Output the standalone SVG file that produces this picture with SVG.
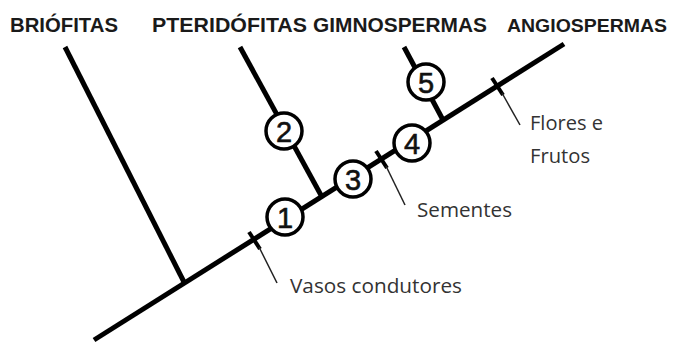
<svg xmlns="http://www.w3.org/2000/svg" width="675" height="343" viewBox="0 0 675 343">
<style>
.br{stroke:#000;stroke-width:5;stroke-linecap:butt;fill:none}
.tk{stroke:#000;stroke-width:4;fill:none}
.pt{stroke:#222;stroke-width:1.5;fill:none}
.c{fill:#fff;stroke:#000;stroke-width:3.5}
.n{font-family:"Liberation Sans",Arial,sans-serif;font-size:29px;fill:#111;text-anchor:middle;stroke:#111;stroke-width:0.6}
.t{font-family:"Liberation Sans",Arial,sans-serif;font-size:20px;font-weight:bold;fill:#1a1a1a}
.l{font-family:"Open Sans","Liberation Sans",sans-serif;font-size:20px;fill:#333}
</style>
<rect width="675" height="343" fill="#fff"/>
<g id="titles">
<text class="t" x="10" y="32" textLength="108" lengthAdjust="spacingAndGlyphs">BRIÓFITAS</text>
<text class="t" x="152" y="32" textLength="155" lengthAdjust="spacingAndGlyphs">PTERIDÓFITAS</text>
<text class="t" x="313" y="32" textLength="174" lengthAdjust="spacingAndGlyphs">GIMNOSPERMAS</text>
<text class="t" x="507" y="32" textLength="160" lengthAdjust="spacingAndGlyphs" style="font-size:19px">ANGIOSPERMAS</text>
</g>
<g id="connectors">
<line class="br" x1="94" y1="340" x2="564" y2="44"/>
<line class="br" x1="65" y1="47" x2="185" y2="284"/>
<line class="br" x1="240" y1="47" x2="322" y2="197"/>
<line class="br" x1="404" y1="47" x2="443" y2="120"/>
<line class="tk" x1="249" y1="232" x2="260" y2="249"/>
<line class="tk" x1="376" y1="151" x2="387" y2="168"/>
<line class="tk" x1="492" y1="78" x2="503" y2="95"/>
<line class="pt" x1="259" y1="247" x2="277" y2="283"/>
<line class="pt" x1="386" y1="166" x2="405" y2="205"/>
<line class="pt" x1="502" y1="93" x2="520" y2="125"/>
</g>
<g id="n1"><circle class="c" cx="285" cy="217" r="18"/><text class="n" x="285" y="227.5">1</text></g>
<g id="n2"><circle class="c" cx="284" cy="131" r="18"/><text class="n" x="284" y="141.5">2</text></g>
<g id="n3"><circle class="c" cx="353" cy="179" r="18"/><text class="n" x="353" y="189.5">3</text></g>
<g id="n4"><circle class="c" cx="412" cy="143" r="18"/><text class="n" x="412" y="153.5">4</text></g>
<g id="n5"><circle class="c" cx="426" cy="82" r="18"/><text class="n" x="426" y="92.5">5</text></g>
<g id="labels">
<text class="l" x="290" y="293" textLength="172" lengthAdjust="spacingAndGlyphs">Vasos condutores</text>
<text class="l" x="417" y="217" textLength="95" lengthAdjust="spacingAndGlyphs">Sementes</text>
<text class="l" x="530" y="130" textLength="73" lengthAdjust="spacingAndGlyphs">Flores e</text>
<text class="l" x="530" y="163" textLength="60" lengthAdjust="spacingAndGlyphs">Frutos</text>
</g>
</svg>
